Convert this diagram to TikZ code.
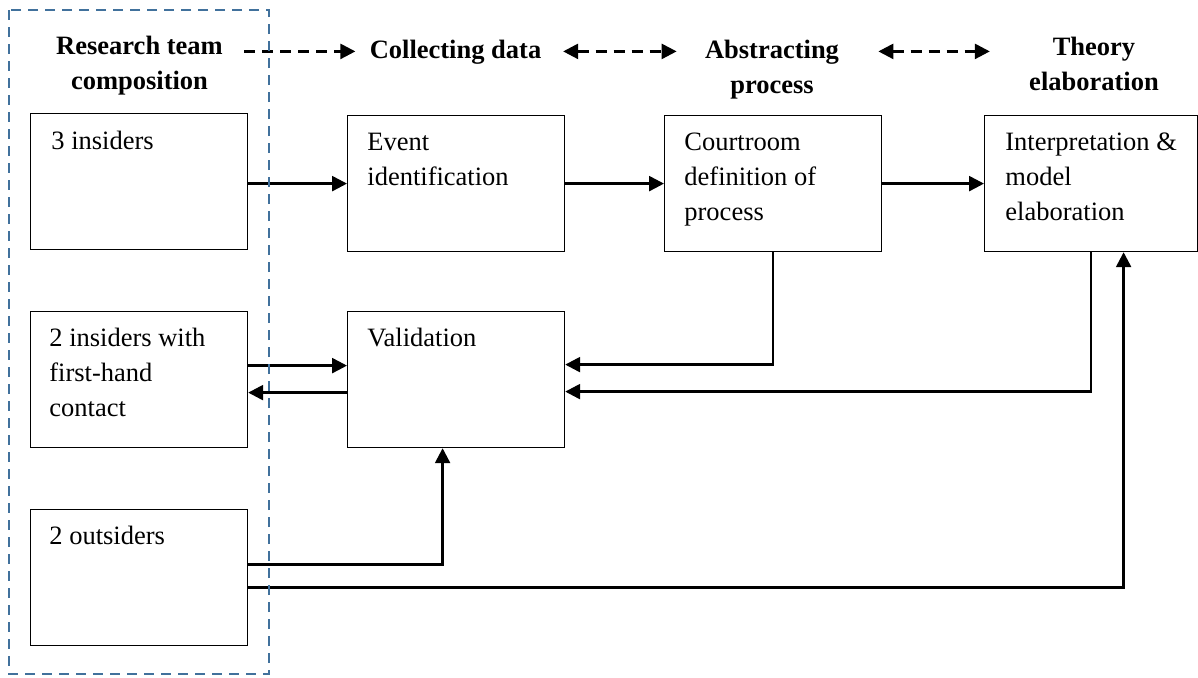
\documentclass[tikz,border=0pt]{standalone}
\usepackage{fontspec}
\setmainfont{Liberation Serif}
\usetikzlibrary{arrows.meta}
\definecolor{teamblue}{RGB}{65,113,156}

\begin{document}
\begin{tikzpicture}[x=0.5pt,y=-0.5pt,
  >={Triangle[length=7.5pt,width=7.5pt]},
  box/.style={draw, line width=.6pt, anchor=north west, minimum width=108.5pt, minimum height=68pt, inner sep=0pt},
  boxtext/.style={anchor=north west, align=left, inner sep=0pt, font=\fontsize{13.25}{17.5}\selectfont},
  head/.style={anchor=north, align=center, inner sep=0pt, font=\fontsize{13.25}{17.5}\selectfont\bfseries},
  conn/.style={line width=1.25pt, ->},
  dasharr/.style={line width=1.3pt, dash pattern=on 5.5pt off 3.5pt}]
\useasboundingbox (0,0) rectangle (1198,677);

% column heads
\node[head] (hres) at (139.5,29.5) {\strut Research team\\composition};
\node[head] (hcol) at (455.5,33.5) {\strut Collecting data};
\node[head] (habs) at (772,33.5) {\strut Abstracting\\process};
\node[head] (hthe) at (1094,30.5) {\strut Theory\\elaboration};

% boxes
\node[box] (ins) at (30,113) {};
\node[box] (mix) at (30,311) {};
\node[box] (out) at (30,509) {};
\node[box] (event) at (347,115) {};
\node[box] (val) at (347,311) {};
\node[box] (court) at (664,115) {};
\node[box, minimum width=106.5pt] (interp) at (984,115) {};

\node[boxtext] (tins) at ([shift={(21,12)}]ins.north west) {\strut 3 insiders};
\node[boxtext] (tmix) at ([shift={(19,11)}]mix.north west) {\strut 2 insiders with\\first-hand\\contact};
\node[boxtext] (tout) at ([shift={(19,11)}]out.north west) {\strut 2 outsiders};
\node[boxtext] (tevent) at ([shift={(20,11)}]event.north west) {\strut Event\\identification};
\node[boxtext] (tval) at ([shift={(20,11)}]val.north west) {\strut Validation};
\node[boxtext] (tcourt) at ([shift={(20,11)}]court.north west) {\strut Courtroom\\definition of\\process};
\node[boxtext] (tinterp) at ([shift={(21,11)}]interp.north west) {\strut Interpretation \&\\model\\elaboration};

% dashed arrows between the heads
\draw[dasharr, ->, shorten <=10.5pt, shorten >=7pt] (hres.east |- hcol) -- (hcol.west);
\draw[dasharr, <->, shorten <=10.75pt, shorten >=14pt] (hcol.east) -- (hcol.east -| habs.west);
\draw[dasharr, <->, shorten <=19.5pt, shorten >=19.5pt] (habs.east |- hcol) -- (hcol -| hthe.west);

% connectors
\draw[conn] (ins.east |- event) -- (event.west);
\draw[conn] (event.east) -- (court.west);
\draw[conn] (court.east) -- (interp.west);
\draw[conn] (court.south) |- ([yshift=7.5pt]val.east);
\draw[conn] (interp.south) |- ([yshift=-6pt]val.east);
\draw[conn] ([yshift=7pt]mix.east) -- ([yshift=7pt]val.west);
\draw[conn] ([yshift=-6.5pt]val.west) -- ([yshift=-6.5pt]mix.east);
\draw[conn] ([yshift=6.5pt]out.east) -| ([xshift=-6.75pt]val.south);
\draw[conn] ([yshift=-5pt]out.east) -| ([xshift=16.25pt]interp.south);

% research team frame
\draw[teamblue, line width=1pt, dash pattern=on 5pt off 3.5pt] (9,10) rectangle (269,674);
\end{tikzpicture}
\end{document}
